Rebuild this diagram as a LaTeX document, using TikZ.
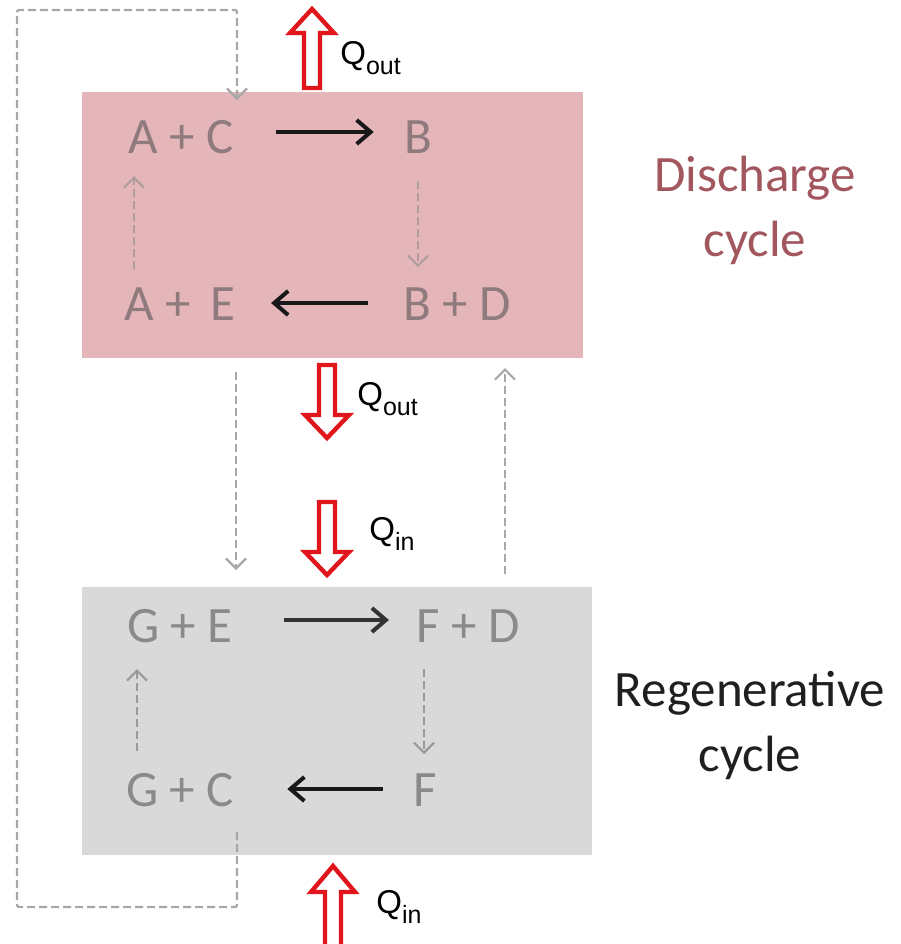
\documentclass[tikz,border=0pt]{standalone}
\usepackage{fontspec}
\setmainfont{Carlito}
\newfontfamily\arialf{Liberation Sans}
\usetikzlibrary{arrows.meta,calc}
\definecolor{pinkbox}{HTML}{E4B6B9}
\definecolor{graybox}{HTML}{D9D9D9}
\definecolor{pinktext}{HTML}{8F7B7D}
\definecolor{graytext}{HTML}{8A8A8A}
\definecolor{dischargecol}{HTML}{A2565E}
\definecolor{dashcol}{HTML}{A8A8A8}
\definecolor{dashpink}{HTML}{AE9C9E}
\definecolor{qred}{HTML}{E0161C}
\newcommand\qsub[1]{{\arialf Q\raisebox{-0.55ex}{\fontsize{12.5}{13}\selectfont #1}}}
\begin{document}
\begin{tikzpicture}[x=0.5pt,y=-0.5pt,
  species/.style={font=\fontsize{25.5}{30}\selectfont, inner sep=0pt},
  react/.style={line width=2pt, -{Straight Barb[length=7pt,width=12pt,line width=2pt]}},
  dashflow/.style={dashcol, line width=1.1pt, dash pattern=on 4pt off 2pt,
     -{Straight Barb[length=5pt,width=10pt,line width=1.1pt]}},
  qlabel/.style={font=\arialf\fontsize{16.5}{19}\selectfont, anchor=west, inner sep=0pt},
  cyclelabel/.style={font=\fontsize{25.5}{32.5}\selectfont, align=center, inner sep=0pt},
  qarrow/.style={draw=qred, line width=2.2pt, fill=white, line join=miter}
]
\useasboundingbox (0,0) rectangle (901,944);

% boxes
\fill[pinkbox] (82,92) rectangle (583,358);
\fill[graybox] (82,587) rectangle (592,855);

% species
\node[species, text=pinktext] (AC) at (181,137) {A + C};
\node[species, text=pinktext] (B)  at (418,137) {B};
\node[species, text=pinktext] (AE) at (180,304) {A +\, E};
\node[species, text=pinktext] (BD) at (457,304) {B + D};
\node[species, text=graytext] (GE) at (180,626) {G + E};
\node[species, text=graytext] (FD) at (468,626) {F + D};
\node[species, text=graytext] (GC) at (180,790) {G + C};
\node[species, text=graytext] (F)  at (425,790) {F};

% cycle labels
\node[cyclelabel, text=dischargecol] (dis) at (755,210) {Discharge\\cycle};
\node[cyclelabel, text=black!88] (reg) at (750,725) {Regenerative\\cycle};

% reaction arrows
\draw[react, black!90] ($(AC.east)+(42,-5)$) -- ($(B.west)+(-30,-5)$);
\draw[react, black!90] ($(BD.west)+(-35,-1)$) -- ($(AE.east)+(35,-1)$);
\draw[react, black!80] ($(GE.east)+(51,-6)$) -- ($(FD.west)+(-27,-6)$);
\draw[react, black!90] ($(F.west)+(-30,-1)$) -- ($(GC.east)+(53,-1)$);

% dashed inner arrows
\draw[dashflow, dashpink] ($(B.south)+(0,27)$) -- ($(B.south |- BD.north)+(0,-20)$);
\draw[dashflow, dashpink] ($(AE.north)+(-46,-18)$) -- ($(AE.north |- AC.south)+(-46,22)$);
\draw[dashflow, black!40] ($(FD.south)+(-44,26)$) -- ($(FD.south |- F.north)+(-44,-19)$);
\draw[dashflow, black!40] ($(GC.north)+(-43,-22)$) -- ($(GC.north |- GE.south)+(-43,26)$);

% between boxes
\coordinate (ldtop) at (236,372);
\coordinate (ldbot) at (236,570);
\coordinate (rdbot) at (505,574);
\coordinate (rdtop) at (505,368);
\draw[dashflow] (ldtop) -- (ldbot);
\draw[dashflow] (rdbot) -- (rdtop);

% outer loop
\coordinate (ls) at (237,832);
\coordinate (l1) at (237,907);
\coordinate (l2) at (17,907);
\coordinate (l3) at (17,10);
\coordinate (l4) at (237,10);
\coordinate (le) at (237,100);
\draw[dashflow, rounded corners=1pt] (ls) -- (l1) -- (l2) -- (l3) -- (l4) -- (le);

% heat arrows
\draw[qarrow] (304,88) -- (304,33) -- (290,33) -- (312,9) -- (334,33) -- (320,33) -- (320,88) -- cycle;
\draw[qarrow] (319,365) -- (319,415) -- (305,415) -- (327,438) -- (349,415) -- (335,415) -- (335,365) -- cycle;
\draw[qarrow] (319,502) -- (319,552) -- (305,552) -- (327,575) -- (349,552) -- (335,552) -- (335,502) -- cycle;
\draw[qarrow] (325,950) -- (325,892) -- (311,892) -- (333,866) -- (355,892) -- (341,892) -- (341,950);

% heat labels
\node[qlabel] (q1) at (340,58) {\qsub{out}};
\node[qlabel] (q2) at (357,399) {\qsub{out}};
\node[qlabel] (q3) at (369,534) {\qsub{in}};
\node[qlabel] (q4) at (376,907) {\qsub{in}};
\end{tikzpicture}
\end{document}
